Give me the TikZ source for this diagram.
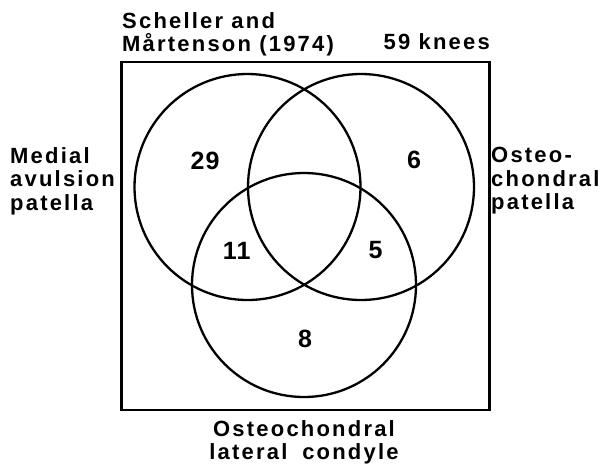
\documentclass[tikz,border=0pt]{standalone}
\usepackage{fontspec}
\newfontfamily\labfont[LetterSpace=10]{Liberation Sans Bold}
\newfontfamily\numfont[LetterSpace=4]{Liberation Sans Bold}
\begin{document}
\begin{tikzpicture}[x=1pt,y=-1pt,
  ring/.style={draw=black,line width=2.3pt},
  frame/.style={draw=black,line width=2.3pt},
  lab/.style={inner sep=0pt,font=\labfont\fontsize{22}{23.5}\selectfont},
  num/.style={inner sep=0pt,font=\numfont\fontsize{25}{28}\selectfont}]
\useasboundingbox (0,0) rectangle (601,469);
\draw[frame] (121.5,62) rectangle (489.5,410);
\draw[ring] (247.5,187) circle[radius=113];
\draw[ring] (361,187) circle[radius=113];
\draw[ring] (304,285) circle[radius=112];
\node[lab,anchor=north west,align=left] (title) at (122,12) {Scheller and\\Mårtenson (1974)};
\node[lab,anchor=base east] (knees) at (490,49) {59 knees};
\node[lab,anchor=north west,align=left] (medial) at (10,147) {Medial\\avulsion\\patella};
\node[lab,anchor=north west,align=left] (osteo) at (491,147) {Osteo-\\chondral\\patella};
\node[lab,anchor=north,align=center] (lateral) at (304,420) {Osteochondral\\lateral\hspace{0.3em} condyle};
\node[num] (n29) at (205,160.5) {29};
\node[num] (n6) at (414,160) {6};
\node[num] (n11) at (236.7,250.5) {11};
\node[num] (n5) at (375.5,250) {5};
\node[num] (n8) at (305,339) {8};
\end{tikzpicture}
\end{document}
